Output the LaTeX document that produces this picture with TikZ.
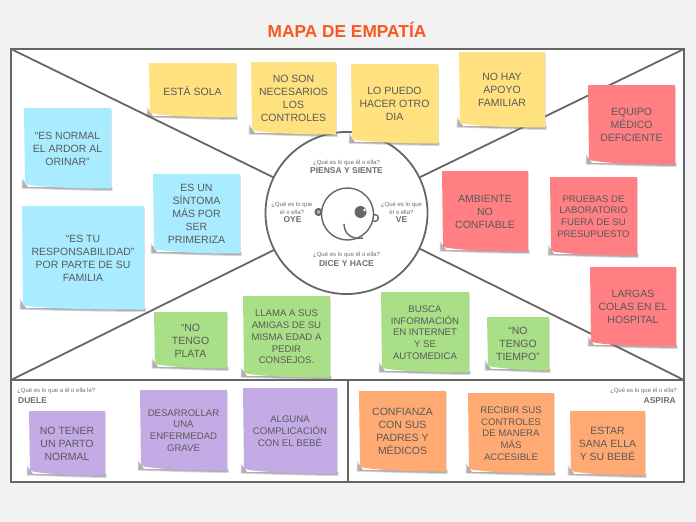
\documentclass[tikz,border=0pt]{standalone}
\usepackage{fontspec}
\setmainfont{Liberation Sans}
\definecolor{bgc}{HTML}{F2F2F2}
\definecolor{linec}{HTML}{666666}
\definecolor{txt}{HTML}{5A5A5A}
\definecolor{lab}{HTML}{6E6E6E}
\definecolor{titlec}{HTML}{F9591F}
\definecolor{yel}{HTML}{FFE17F}
\definecolor{redn}{HTML}{FF7F82}
\definecolor{blu}{HTML}{A9ECFF}
\definecolor{grn}{HTML}{A9DF86}
\definecolor{pur}{HTML}{C5ABE6}
\definecolor{org}{HTML}{FFAA73}
\tikzset{
  frameline/.style={draw=linec,line width=1.8pt},
  faceline/.style={draw=linec,line width=1.4pt},
  notetext/.style={text=txt,font=\fontsize{10.5}{13}\selectfont,align=center,inner sep=0pt},
  notesmall/.style={text=txt,font=\fontsize{9.6}{11.7}\selectfont,align=center,inner sep=0pt},
  smalllabel/.style={text=lab,font=\fontsize{6}{7.7}\selectfont,align=center,inner sep=0pt},
  biglabel/.style={text=lab,font=\fontsize{8.5}{9}\selectfont\bfseries,align=center,inner sep=0pt}
}
% style, name, left, top, right, bottom, colour, text
\newcommand{\stickybody}[6]{
  \fill[black!60,opacity=.25] (#1-2,#4-11) -- (#1+4,#4-2) -- (#3+1.5,#4-2) -- (#3+1.5,#4+2) .. controls (#1+40,#4+1.5) and (#1+20,#4) .. (#1-2.5,#4-.5) -- cycle;
  \fill[black!60,opacity=.35] (#1-1.2,#4-9) -- (#1+4,#4-2) -- (#3+.7,#4-2) -- (#3+.7,#4+1) .. controls (#1+40,#4+.5) and (#1+20,#4-.8) .. (#1-1.5,#4-1) -- cycle;
  \fill[black!40,opacity=.3] (#3,#2+2) rectangle (#3+.8,#4);
  \fill[#5] (#1,#2) -- (#3,#2) -- (#3,#4-.5) .. controls (#1+45,#4-.5) and (#1+15,#4-2) .. (#1+1,#4-5) -- cycle;
}
\newcommand{\stickynote}[8]{
  \stickybody{#3}{#4}{#5}{#6}{#7}{}
  \node[#1] (#2) at ({(#3+#5)/2},{(#4+#6)/2}) {#8};
}
\begin{document}
\begin{tikzpicture}[x=1pt,y=-1pt]
\useasboundingbox (0,0) rectangle (696,522);
\fill[bgc] (0,0) rectangle (696,522);
\node[font=\fontsize{17.3}{19}\selectfont\bfseries,text=titlec,inner sep=0pt] (title) at (347,30) {MAPA DE EMPATÍA};
\coordinate (tl) at (11,49);
\coordinate (tr) at (684,49);
\coordinate (bl) at (11,482);
\coordinate (br) at (684,482);
\coordinate (ml) at (11,380);
\coordinate (mr) at (684,380);
\coordinate (mm) at (348,380);
\coordinate (mb) at (348,482);
\fill[white] (tl) rectangle (br);
\node[circle,minimum size=162pt,inner sep=0pt,draw=linec,fill=white,line width=1.8pt] (hub) at (346.5,213) {};
\draw[frameline] (tl) -- (hub.154);
\draw[frameline] (tr) -- (hub.26);
\draw[frameline] (ml) -- (hub.207);
\draw[frameline] (mr) -- (hub.334);
\draw[frameline] (tl) rectangle (br);
\draw[frameline] (ml) -- (mr);
\draw[frameline] (mm) -- (mb);
% face
\draw[linec,line width=2pt,fill=linec!50] (318.5,212) circle (3);
\draw[faceline,fill=white] (375,218) circle (3.4);
\node[circle,minimum size=52pt,inner sep=0pt,faceline,fill=white] (head) at (347.5,214) {};
\fill[linec] (360.5,212) circle (6);
\fill[white] (364.5,210) circle (1.3);
\draw[faceline] (344,224) .. controls (344,234) and (352,240) .. (363,238);
% circle labels
\node[smalllabel] (q1) at (346.5,162.5) {¿Qué es lo que él o ella?};
\node[biglabel] (l1) at (346.5,171) {PIENSA Y SIENTE};
\node[smalllabel] (q2) at (292,208) {¿Qué es lo que\\él o ella?};
\node[biglabel] (l2) at (292.5,220) {OYE};
\node[smalllabel] (q3) at (401.5,208) {¿Qué es lo que\\él o ella?};
\node[biglabel] (l3) at (401.5,220) {VE};
\node[smalllabel] (q4) at (346.5,255) {¿Qué es lo que él o ella?};
\node[biglabel] (l4) at (346.5,264) {DICE Y HACE};
\node[smalllabel,anchor=west] (q5) at (17,391) {¿Qué es lo que a él o ella le?};
\node[biglabel,anchor=west] (l5) at (18,401) {DUELE};
\node[smalllabel,anchor=east] (q6) at (677,391) {¿Qué es lo que él o ella?};
\node[biglabel,anchor=east] (l6) at (676,401) {ASPIRA};
% notes
\stickynote{notetext}{y1}{149}{63}{236}{118}{yel}{ESTÁ SOLA}
\stickynote{notetext}{y2}{251}{62}{336}{135}{yel}{NO SON\\NECESARIOS\\LOS\\CONTROLES}
\stickynote{notetext}{y3}{351}{64}{438}{144}{yel}{LO PUEDO\\HACER OTRO\\DIA}
\stickynote{notetext}{y4}{459}{52}{545}{128}{yel}{NO HAY\\APOYO\\FAMILIAR}
\stickynote{notetext}{r1}{588}{85}{675}{165}{redn}{EQUIPO\\MÉDICO\\DEFICIENTE}
\stickynote{notetext}{r2}{442}{171}{528}{252}{redn}{AMBIENTE\\NO\\CONFIABLE}
\stickynote{notesmall}{r3}{550}{177}{637}{256}{redn}{PRUEBAS DE\\LABORATORIO\\FUERA DE SU\\PRESUPUESTO}
\stickynote{notetext}{r4}{590}{267}{676}{347}{redn}{LARGAS\\COLAS EN EL\\HOSPITAL}
\stickynote{notetext}{b1}{24}{108}{111}{189}{blu}{“ES NORMAL\\EL ARDOR AL\\ORINAR”}
\stickynote{notetext}{b2}{153}{174}{240}{254}{blu}{ES UN\\SÍNTOMA\\MÁS POR\\SER\\PRIMERIZA}
\stickynote{notetext}{b3}{22}{206}{144}{310}{blu}{“ES TU\\RESPONSABILIDAD”\\POR PARTE DE SU\\FAMILIA}
\stickynote{notetext}{g1}{154}{312}{227}{369}{grn}{“NO\\TENGO\\PLATA}
\stickynote{notesmall}{g2}{243}{296}{330}{378}{grn}{LLAMA A SUS\\AMIGAS DE SU\\MISMA EDAD A\\PEDIR\\CONSEJOS.}
\stickynote{notesmall}{g3}{381}{292}{469}{373}{grn}{BUSCA\\INFORMACIÓN\\EN INTERNET\\Y SE\\AUTOMEDICA}
\stickynote{notetext}{g4}{487}{317}{549}{371}{grn}{“NO\\TENGO\\TIEMPO”}
\stickynote{notetext}{p1}{29}{411}{105}{476}{pur}{NO TENER\\UN PARTO\\NORMAL}
\stickynote{notesmall}{p2}{140}{390}{227}{471}{pur}{DESARROLLAR\\UNA\\ENFERMEDAD\\GRAVE}
\stickynote{notesmall}{p3}{243}{388}{337}{474}{pur}{ALGUNA\\COMPLICACIÓN\\CON EL BEBÉ}
\stickynote{notetext}{o1}{359}{391}{446}{472}{org}{CONFIANZA\\CON SUS\\PADRES Y\\MÉDICOS}
\stickynote{notesmall}{o2}{468}{393}{554}{474}{org}{RECIBIR SUS\\CONTROLES\\DE MANERA\\MÁS\\ACCESIBLE}
\stickynote{notetext}{o3}{570}{411}{645}{476}{org}{ESTAR\\SANA ELLA\\Y SU BEBÉ}
\end{tikzpicture}
\end{document}
